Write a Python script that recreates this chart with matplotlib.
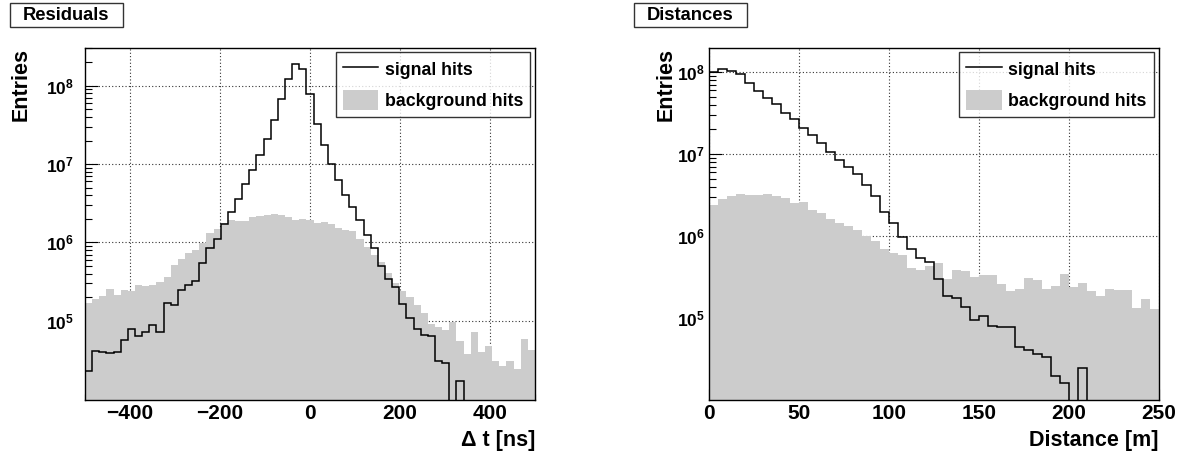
import numpy as np
import matplotlib
matplotlib.use('Agg')
import matplotlib.pyplot as plt
from matplotlib.lines import Line2D
from matplotlib.patches import Patch, Rectangle
from matplotlib.ticker import MultipleLocator, LogLocator, NullFormatter

# ---- data (entries per bin) ----
dt_edges = np.linspace(-500, 500, 64)      # 63 bins
dt_signal = [2.27e4, 4.13e4, 3.98e4, 3.82e4, 4.01e4, 5.6e4, 7.8e4, 6.4e4, 7.2e4, 8.7e4,
             7.2e4, 1.66e5, 1.57e5, 2.48e5, 2.85e5, 3.2e5, 5.5e5, 8.4e5, 1.10e6, 1.73e6,
             2.42e6, 3.6e6, 5.5e6, 8.3e6, 1.32e7, 2.08e7, 3.68e7, 6.8e7, 1.24e8, 1.91e8,
             1.65e8, 7.8e7, 3.3e7, 1.75e7, 1.01e7, 6.3e6, 4.0e6, 2.8e6, 1.93e6, 1.23e6,
             8.5e5, 5.0e5, 3.4e5, 2.66e5, 1.61e5, 1.07e5, 7.9e4, 6.6e4, 6.4e4, 3.1e4,
             2.85e4, 0, 1.68e4, 0, 0, 0, 0, 0, 0, 0,
             0, 0, 0]
dt_background = [1.66e5, 1.87e5, 2.06e5, 2.51e5, 2.12e5, 2.46e5, 2.41e5, 2.82e5, 2.77e5, 2.88e5,
                 3.14e5, 3.64e5, 5.1e5, 6.1e5, 7.4e5, 8.1e5, 9.9e5, 1.30e6, 1.49e6, 1.75e6,
                 1.93e6, 1.89e6, 1.89e6, 2.12e6, 2.19e6, 2.23e6, 2.28e6, 2.25e6, 2.12e6, 1.93e6,
                 1.97e6, 1.93e6, 1.78e6, 1.82e6, 1.71e6, 1.53e6, 1.45e6, 1.38e6, 1.12e6, 8.8e5,
                 6.9e5, 5.6e5, 4.1e5, 3.0e5, 2.41e5, 2.02e5, 1.57e5, 1.24e5, 9.0e4, 8.4e4,
                 7.6e4, 9.7e4, 5.5e4, 3.7e4, 7.2e4, 4.0e4, 4.8e4, 3.1e4, 2.65e4, 3.1e4,
                 2.45e4, 5.8e4, 4.2e4]

dist_edges = np.linspace(0, 250, 51)       # 50 bins of 5 m
dist_signal = [1.0e8, 1.09e8, 1.05e8, 9.5e7, 7.3e7, 5.9e7, 4.9e7, 4.1e7, 3.2e7, 2.66e7,
               2.10e7, 1.73e7, 1.37e7, 1.05e7, 8.5e6, 7.0e6, 5.7e6, 4.2e6, 3.1e6, 1.96e6,
               1.45e6, 9.8e5, 7.0e5, 5.4e5, 4.75e5, 3.0e5, 1.83e5, 1.76e5, 1.34e5, 9.4e4,
               1.06e5, 8.0e4, 7.6e4, 7.7e4, 4.35e4, 4.0e4, 3.6e4, 3.3e4, 1.95e4, 1.6e4,
               0, 2.45e4, 0, 0, 0, 0, 0, 0, 0, 0]
dist_background = [2.39e6, 2.8e6, 3.1e6, 3.25e6, 3.13e6, 3.19e6, 3.25e6, 3.08e6, 2.88e6, 2.55e6,
                   2.59e6, 2.06e6, 1.92e6, 1.62e6, 1.43e6, 1.32e6, 1.18e6, 1.0e6, 8.7e5, 7.0e5,
                   6.2e5, 5.8e5, 4.0e5, 3.8e5, 4.3e5, 4.7e5, 3.0e5, 3.8e5, 3.76e5, 3.17e5,
                   3.33e5, 3.33e5, 2.56e5, 2.14e5, 2.22e5, 3.08e5, 2.89e5, 2.22e5, 2.44e5, 3.42e5,
                   2.39e5, 2.65e5, 2.12e5, 1.84e5, 2.26e5, 2.18e5, 2.16e5, 1.30e5, 1.68e5, 1.28e5]

# ---- style ----
plt.rcParams['font.family'] = ['Liberation Sans', 'DejaVu Sans']
plt.rcParams['font.weight'] = 'bold'
plt.rcParams['mathtext.fontset'] = 'custom'
plt.rcParams['mathtext.rm'] = 'Liberation Sans:bold'
plt.rcParams['mathtext.it'] = 'Liberation Sans:bold'
plt.rcParams['mathtext.bf'] = 'Liberation Sans:bold'

GRAY = '#cccccc'
W, H = 1193, 459

fig = plt.figure(figsize=(W / 100, H / 100), dpi=100)
ax1 = fig.add_axes([85 / W, 59 / H, 450 / W, 352 / H])
ax2 = fig.add_axes([709.3 / W, 59 / H, 449.4 / W, 352 / H])


def draw_panel(ax, edges, signal, background, ylim, xmajor, xminor, xlabel,
               ylabel_x, ypad):
    sig = np.asarray(signal, dtype=float)
    bkg = np.asarray(background, dtype=float)
    # empty bins drop below the axis (log scale)
    ax.stairs(np.where(bkg > 0, bkg, 1.0), edges, fill=True, baseline=1.0,
              color=GRAY, lw=0, zorder=1)
    ax.stairs(np.where(sig > 0, sig, 1.0), edges, baseline=None,
              color='black', lw=1.1, zorder=2)

    ax.set_yscale('log')
    ax.set_xlim(edges[0], edges[-1])
    ax.set_ylim(*ylim)

    ax.xaxis.set_major_locator(MultipleLocator(xmajor))
    ax.xaxis.set_minor_locator(MultipleLocator(xminor))
    ax.set_yticks([1e5, 1e6, 1e7, 1e8])
    ax.set_yticklabels([r'$10^{5}$', r'$10^{6}$', r'$10^{7}$', r'$10^{8}$'])
    ax.yaxis.set_minor_locator(LogLocator(base=10, subs=np.arange(2, 10), numticks=20))
    ax.yaxis.set_minor_formatter(NullFormatter())

    ax.tick_params(which='both', direction='in', top=False, right=False, width=0.8)
    ax.tick_params(axis='x', which='major', length=8, pad=3, labelsize=15)
    ax.tick_params(axis='x', which='minor', length=4.3)
    ax.tick_params(axis='y', which='major', length=9.4, pad=ypad, labelsize=12.5)
    ax.tick_params(axis='y', which='minor', length=5)

    ax.set_axisbelow(True)
    ax.grid(True, which='major', color='#333333', lw=0.8, ls=(0, (1, 2)))
    for s in ax.spines.values():
        s.set_linewidth(1.0)
        s.set_zorder(3)

    ax.set_xlabel(xlabel, fontsize=15.5, fontweight='bold', ha='right', va='top')
    ax.xaxis.set_label_coords(1.0, -0.085)
    ax.set_ylabel('Entries', fontsize=15.5, fontweight='bold', ha='right', va='center')
    ax.yaxis.set_label_coords(ylabel_x, 1.0)

    handles = [Line2D([], [], color='black', lw=1.1), Patch(facecolor=GRAY, edgecolor='none')]
    leg = ax.legend(handles, ['signal hits', 'background hits'], loc='upper right',
                    bbox_to_anchor=(0.989, 0.988), borderaxespad=0, fontsize=12.8,
                    frameon=True, fancybox=False, handlelength=2.0, handleheight=1.35,
                    handletextpad=0.35, borderpad=0.4, labelspacing=0.6)
    leg.get_frame().set_edgecolor('black')
    leg.get_frame().set_linewidth(1.0)
    leg.set_zorder(5)


draw_panel(ax1, dt_edges, dt_signal, dt_background, (10 ** 3.987, 10 ** 8.483),
           200, 50, 'Δ t [ns]', -0.142, 8)
draw_panel(ax2, dist_edges, dist_signal, dist_background, (10 ** 3.994, 10 ** 8.297),
           50, 10, 'Distance [m]', -0.095, 3)

# title boxes in the top-left corner of each pad
for x0, title in [(10, 'Residuals'), (634, 'Distances')]:
    fig.patches.append(Rectangle((x0 / W, 1 - 27 / H), 113 / W, 24 / H,
                                 transform=fig.transFigure, fill=True, fc='white',
                                 ec='#333333', lw=1.0))
    fig.text((x0 + 56.5) / W, 1 - 15.5 / H, title, ha='center', va='center',
             fontsize=13.2, fontweight='bold')

fig.savefig('out.png', dpi=100)
